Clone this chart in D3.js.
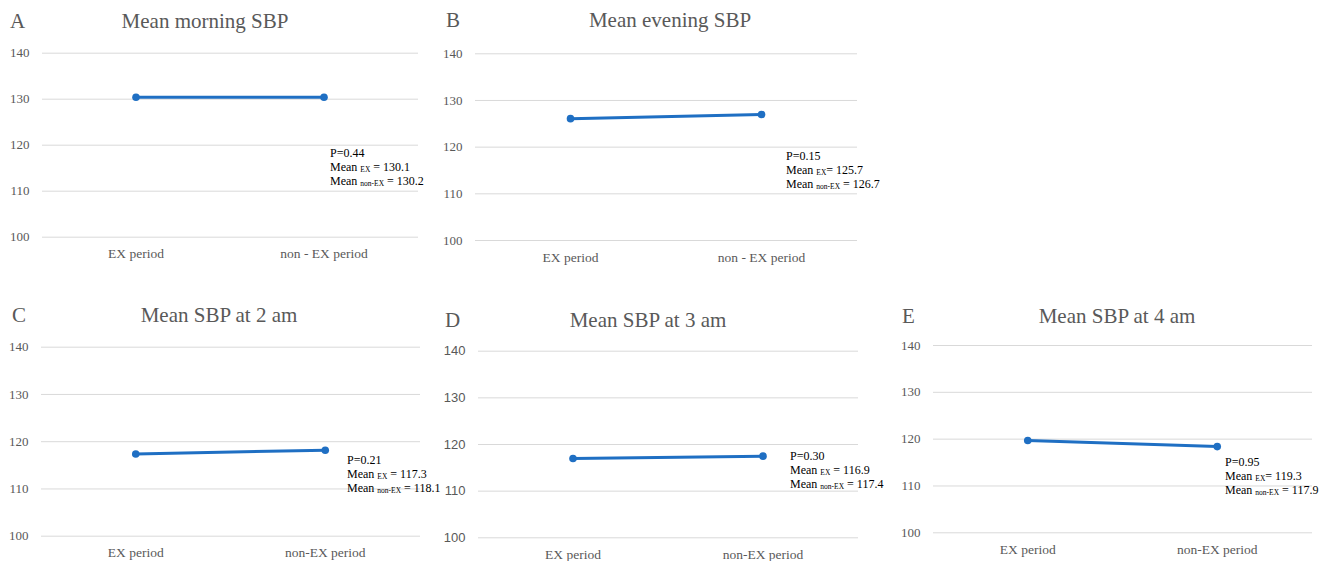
<!DOCTYPE html>
<html>
<head>
<meta charset="utf-8">
<script src="https://cdn.jsdelivr.net/npm/d3@7"></script>
<style>
  body { margin: 0; background: #fff; }
  svg { display: block; }
</style>
</head>
<body>
<div id="chart"></div>
<script>
// data
const letters = ['A', 'B', 'C', 'D', 'E']
const titles = ['Mean morning SBP', 'Mean evening SBP', 'Mean SBP at 2 am', 'Mean SBP at 3 am', 'Mean SBP at 4 am']
const categories = [
  ['EX period', 'non - EX period'],
  ['EX period', 'non - EX period'],
  ['EX period', 'non-EX period'],
  ['EX period', 'non-EX period'],
  ['EX period', 'non-EX period']
]
const exValues = [130.3, 126.0, 117.3, 116.9, 119.6]
const nonExValues = [130.3, 126.9, 118.1, 117.4, 118.3]
const yTicks = [100, 110, 120, 130, 140]
const pTexts = ['P=0.44', 'P=0.15', 'P=0.21', 'P=0.30', 'P=0.95']
const exNotes = [' = 130.1', '= 125.7', ' = 117.3', ' = 116.9', '= 119.3']
const nonExNotes = [' = 130.2', ' = 126.7', ' = 118.1', ' = 117.4', ' = 117.9']

// layout of each panel (pixel positions only)
const layout = [
  { left: 42, right: 418, top: 52.7, bottom: 236.7, titleX: 205, titleY: 28, letterX: 10, noteX: 330, noteY: 157, tickFont: 'Liberation Serif' },
  { left: 475, right: 857, top: 53.3, bottom: 240, titleX: 670, titleY: 27, letterX: 446, noteX: 786, noteY: 160, tickFont: 'Liberation Serif' },
  { left: 41, right: 420, top: 346.7, bottom: 535.7, titleX: 219, titleY: 322, letterX: 12, noteX: 347, noteY: 464, tickFont: 'Liberation Serif' },
  { left: 478, right: 858, top: 350.7, bottom: 537.3, titleX: 648, titleY: 327, letterX: 445, noteX: 790, noteY: 460, tickFont: 'Liberation Sans' },
  { left: 933, right: 1312, top: 345, bottom: 532.3, titleX: 1117, titleY: 323, letterX: 902, noteX: 1225, noteY: 466, tickFont: 'Liberation Serif' }
]

const gray = '#595959'
const blue = '#1f6fc3'

function draw() {
  const svg = d3.select('#chart')
    .append('svg')
    .attr('width', 1322)
    .attr('height', 561)
    .style('font-family', 'Liberation Serif, Times New Roman, serif')

  letters.forEach((letter, i) => {
    const lay = layout[i]
    const g = svg.append('g')

    const x = d3.scaleBand()
      .domain(categories[i])
      .range([lay.left, lay.right])

    const y = d3.scaleLinear()
      .domain([100, 140])
      .range([lay.bottom, lay.top])

    // gridlines + tick labels
    const yAxis = g.append('g')
      .attr('transform', `translate(${lay.left},0)`)
      .call(d3.axisLeft(y)
        .tickValues(yTicks)
        .tickSize(-(lay.right - lay.left))
        .tickPadding(12.5))
    yAxis.select('.domain').remove()
    yAxis.selectAll('line').attr('stroke', '#d9d9d9').attr('stroke-width', 1)
    yAxis.selectAll('text')
      .attr('fill', gray)
      .style('font-size', '13px')
      .style('font-family', lay.tickFont)

    // category labels
    g.selectAll('.cat')
      .data(categories[i])
      .join('text')
      .attr('class', 'cat')
      .attr('x', d => x(d) + x.bandwidth() / 2)
      .attr('y', lay.bottom + 21.5)
      .attr('text-anchor', 'middle')
      .attr('fill', gray)
      .style('font-size', '13.5px')
      .text(d => d)

    // title and letter
    g.append('text')
      .attr('x', lay.titleX)
      .attr('y', lay.titleY)
      .attr('text-anchor', 'middle')
      .attr('fill', gray)
      .style('font-size', '21px')
      .text(titles[i])
    g.append('text')
      .attr('x', lay.letterX)
      .attr('y', lay.titleY)
      .attr('fill', gray)
      .style('font-size', '21px')
      .text(letter)

    // line + points
    const points = [
      { cat: categories[i][0], value: exValues[i] },
      { cat: categories[i][1], value: nonExValues[i] }
    ]
    const line = d3.line()
      .x(d => x(d.cat) + x.bandwidth() / 2)
      .y(d => y(d.value))
    g.append('path')
      .datum(points)
      .attr('d', line)
      .attr('fill', 'none')
      .attr('stroke', blue)
      .attr('stroke-width', 3)
    g.selectAll('circle')
      .data(points)
      .join('circle')
      .attr('cx', d => x(d.cat) + x.bandwidth() / 2)
      .attr('cy', d => y(d.value))
      .attr('r', 3.8)
      .attr('fill', blue)

    // annotation
    const note = g.append('text')
      .attr('fill', '#000')
      .style('font-size', '12px')
    note.append('tspan')
      .attr('x', lay.noteX).attr('y', lay.noteY)
      .text(pTexts[i])
    const l2 = note.append('tspan').attr('x', lay.noteX).attr('y', lay.noteY + 13.8)
    l2.append('tspan').text('Mean ')
    l2.append('tspan').attr('dy', 1.5).style('font-size', '7.5px').text('EX')
    l2.append('tspan').attr('dy', -1.5).text(exNotes[i])
    const l3 = note.append('tspan').attr('x', lay.noteX).attr('y', lay.noteY + 27.6)
    l3.append('tspan').text('Mean ')
    l3.append('tspan').attr('dy', 1.5).style('font-size', '7.5px').text('non-EX')
    l3.append('tspan').attr('dy', -1.5).text(nonExNotes[i])
  })
}

draw()
</script>
</body>
</html>
